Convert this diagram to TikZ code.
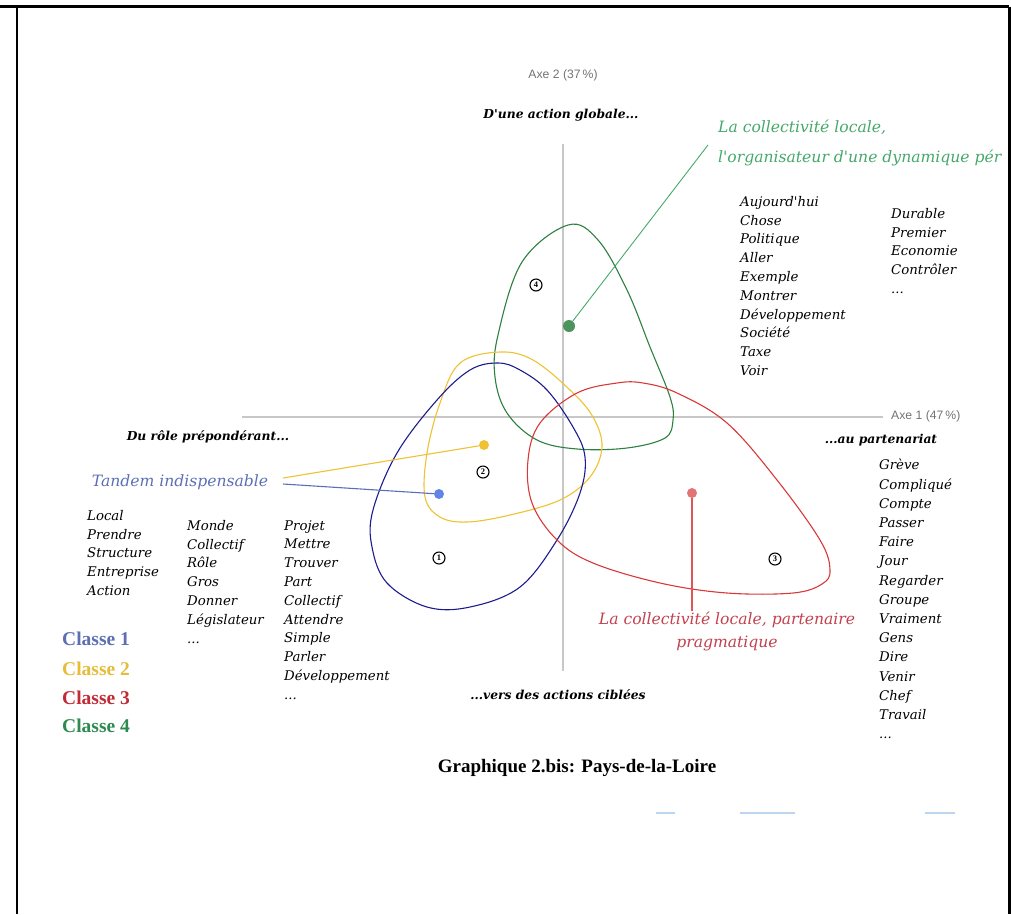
\documentclass[tikz,border=0pt]{standalone}
\usepackage{fontspec}
\setmainfont{Liberation Serif}
\newfontfamily\wordfont{DejaVu Serif}
\newfontfamily\axefont{Liberation Sans}
\definecolor{classeun}{HTML}{1C1C8C}
\definecolor{classedeux}{HTML}{EEC233}
\definecolor{classetrois}{HTML}{D83838}
\definecolor{classequatre}{HTML}{2E8040}
\definecolor{txtun}{HTML}{5C6FB4}
\definecolor{txtdeux}{HTML}{E6BC3A}
\definecolor{txttrois}{HTML}{C22A38}
\definecolor{txtquatre}{HTML}{2E8B50}
\definecolor{labvert}{HTML}{45A86A}
\definecolor{labrouge}{HTML}{C2404E}
\definecolor{pointbleu}{HTML}{6384E6}
\definecolor{trace}{HTML}{BBD6EE}
\tikzset{
  words/.style={anchor=north west, inner sep=0pt, align=left,
    font={\wordfont\itshape\fontsize{13.3}{18.8}\selectfont}},
  pole/.style={inner sep=0pt, font={\wordfont\bfseries\itshape\fontsize{12.3}{14}\selectfont}},
  axe/.style={draw=black!22, line width=1.3pt},
  axelab/.style={inner sep=0pt, text=black!55, font={\axefont\fontsize{12.2}{14}\selectfont}},
  classe/.style={line width=1.1pt, smooth cycle, tension=0.6},
  dot/.style={circle, inner sep=0pt, minimum size=10pt},
  numcirc/.style={circle, draw, line width=1.1pt, inner sep=0pt, minimum size=12pt,
    font={\bfseries\fontsize{8.5}{9}\selectfont}},
  legende/.style={anchor=west, inner sep=0pt, font={\bfseries\fontsize{19.5}{21}\selectfont}},
  lab/.style={inner sep=0pt, font={\wordfont\itshape\fontsize{15.6}{23}\selectfont}}
}
\begin{document}
\begin{tikzpicture}[x=1pt, y=-1pt]
    \useasboundingbox (0,0) rectangle (1011,914);

    % Frame (open at the bottom)
    \draw[line width=2.4pt] (0,6.5) -- (1009.3,6.5);
    \draw[line width=2.4pt] (16.7,6.5) -- (16.7,914);
    \draw[line width=2.4pt] (1009.3,6.5) -- (1009.3,914);

    % Axes and their labels
    \draw[axe] (563,144) -- (563,671);
    \draw[axe] (242,417) -- (883,417);
    \node[axelab] (ax2) at (563,75) {Axe 2 (37\,\%)};
    \node[axelab, anchor=west] (ax1) at (891,416) {Axe 1 (47\,\%)};

    % Poles of the axes
    \node[pole] (poleN) at (561,115) {D'une action globale...};
    \node[pole] (poleW) at (208,437) {Du rôle prépondérant...};
    \node[pole] (poleE) at (881,440) {...au partenariat};
    \node[pole] (poleS) at (558,695) {...vers des actions ciblées};

    % Class contours
    \draw[classe, classequatre] plot coordinates {(568,225) (598,240) (627,290) (650,347)
      (670,397) (673,420) (665,438) (627,448) (577,449) (537,440) (507,413) (495,377)
      (498,335) (522,262)};
    \draw[classe, classedeux] plot coordinates {(500,352) (533,360) (570,390) (593,417)
      (602,447) (590,477) (560,500) (510,515) (467,522) (440,517) (425,497) (427,453)
      (440,403) (460,363)};
    \draw[classe, classeun] plot coordinates {(498,363) (520,370) (547,390) (573,427)
      (585,457) (580,493) (557,540) (520,587) (470,607) (427,607) (387,583) (372,547)
      (373,510) (397,453) (437,400) (470,370)};
    \draw[classe, classetrois] plot coordinates {(617,383) (643,383) (677,393) (727,423)
      (777,480) (820,540) (830,570) (822,584) (793,593) (727,593) (660,583) (593,563)
      (557,540) (532,503) (528,460) (540,423) (577,393)};

    % Class numbers
    \node[numcirc] (n1) at (439,558) {1};
    \node[numcirc] (n2) at (483,472) {2};
    \node[numcirc] (n3) at (775,559) {3};
    \node[numcirc] (n4) at (536,285) {4};

    % Class centres
    \node[dot, fill=classequatre!85, minimum size=12pt] (dotG) at (569,326) {};
    \node[dot, fill=classedeux] (dotY) at (484,445) {};
    \node[dot, fill=pointbleu] (dotB) at (439,494) {};
    \node[dot, fill=classetrois!70] (dotR) at (692,493) {};

    % Labels of the classes
    \begin{scope}
      \clip (0,0) rectangle (1008,914);
      \node[lab, anchor=west, align=left, text=labvert,
        font={\wordfont\itshape\fontsize{15.6}{30}\selectfont}] (labG) at (718,143)
        {La collectivité locale,\\l'organisateur d'une dynamique pér};
    \end{scope}
    \node[lab, text=txtun] (labT) at (180,482) {Tandem indispensable};
    \node[lab, align=center, text=labrouge] (labR) at (727,631)
      {La collectivité locale, partenaire\\pragmatique};

    % Leader lines
    \coordinate (tipG) at (708,145);
    \coordinate (tipY) at (283,478);
    \coordinate (tipB) at (283,484);
    \draw[labvert, line width=0.9pt] (dotG) -- (tipG);
    \draw[classedeux, line width=1.1pt] (dotY) -- (tipY);
    \draw[txtun, line width=1.1pt] (dotB) -- (tipB);
    \draw[classetrois!85, line width=1.1pt] (dotR) -- (dotR |- labR.north);

    % Word lists
    \node[words] (motsNE) at (740,196) {Aujourd'hui\\Chose\\Politique\\Aller\\Exemple\\Montrer\\Développement\\Société\\Taxe\\Voir};
    \node[words] (motsNE2) at (891,208) {Durable\\Premier\\Economie\\Contrôler\\...};
    \node[words] (motsA) at (87,510) {Local\\Prendre\\Structure\\Entreprise\\Action};
    \node[words] (motsB) at (187,520) {Monde\\Collectif\\Rôle\\Gros\\Donner\\Législateur\\...};
    \node[words] (motsC) at (284,520) {Projet\\Mettre\\Trouver\\Part\\Collectif\\Attendre\\Simple\\Parler\\Développement\\...};
    \node[words, font={\wordfont\itshape\fontsize{13.3}{19.2}\selectfont}] (motsE) at (879,459)
      {Grève\\Compliqué\\Compte\\Passer\\Faire\\Jour\\Regarder\\Groupe\\Vraiment\\Gens\\Dire\\Venir\\Chef\\Travail\\...};

    % Legend
    \node[legende, text=txtun] (leg1) at (62,639) {Classe 1};
    \node[legende, text=txtdeux] (leg2) at (62,669) {Classe 2};
    \node[legende, text=txttrois] (leg3) at (62,698) {Classe 3};
    \node[legende, text=txtquatre] (leg4) at (62,726) {Classe 4};

    % Caption
    \node[font={\bfseries\fontsize{19}{22}\selectfont}] (titre) at (577,768) {Graphique 2.bis: Pays-de-la-Loire};

    % Faint remnants below the caption
    \draw[trace, line width=1.5pt] (656,813) -- (675,813);
    \draw[trace, line width=1.5pt] (740,813) -- (795,813);
    \draw[trace, line width=1.5pt] (925,813) -- (955,813);
\end{tikzpicture}
\end{document}
